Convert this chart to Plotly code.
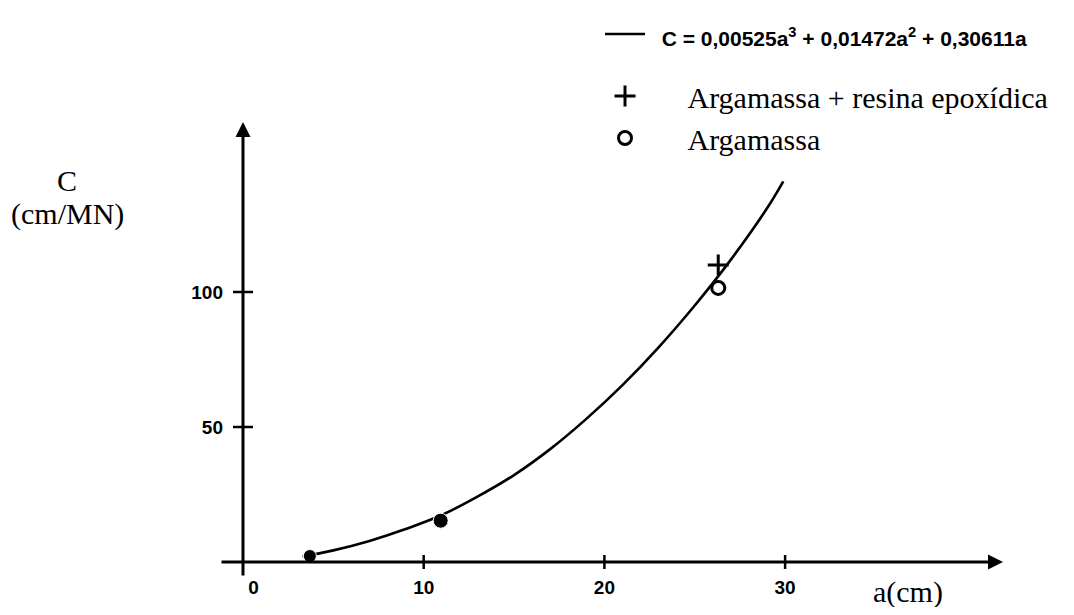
import plotly.graph_objects as go

# ---- data ----
curve_a = [3.3, 5, 7, 9, 11, 13, 15, 17, 19, 21, 23, 25, 27, 29, 29.9]
curve_c = [2.0, 4.3, 7.8, 12.2, 17.4, 24.3, 32.2, 41.8, 53.0, 65.5, 79.5, 95.0, 112.0, 131.0, 141.0]

resina_a = [26.3]
resina_c = [110.0]

arg_a = [26.3]
arg_c = [101.5]

filled_a = [3.7, 10.94]
filled_c = [2.2, 15.3]
filled_size = [13, 15]

x_ticks = [0, 10, 20, 30]
x_ticktext = ["\u00a0\u00a0\u00a0\u00a00", "10", "20", "30"]
y_ticks = [50, 100]
y_ticktext = ["50", "100"]

formula = '<b>C = 0,00525a<sup>3</sup> + 0,01472a<sup>2</sup> + 0,30611a</b>'
name_curve = '<span style="font-family:Liberation Sans;font-size:21px">\u00a0\u00a0' + formula + '</span>'
name_resina = "\u00a0\u00a0\u00a0\u00a0\u00a0Argamassa + resina epoxídica"
name_arg = "\u00a0\u00a0\u00a0\u00a0\u00a0Argamassa"

# ---- layout geometry (screen pixels; the page body has an 8 px margin) ----
OFF = 8
W, H = 1074 - 2 * OFF, 615 - 2 * OFF
L_s, R_s, T_s, B_s = 150, 1040, 8, 600     # plot area on screen
ml, mt = L_s - OFF, T_s - OFF
mr, mb = W - (R_s - OFF), H - (B_s - OFF)
pw, ph = R_s - L_s, B_s - T_s
px_per_x, px_per_y = 18.07, 2.70
x0_s, y0_s = 243, 562
xr = [(L_s - x0_s) / px_per_x, (R_s - x0_s) / px_per_x]
yr = [(y0_s - B_s) / px_per_y, (y0_s - T_s) / px_per_y]


def px(xs):
    return (xs - L_s) / pw


def py(ys):
    return (B_s - ys) / ph


fig = go.Figure()

fig.add_trace(go.Scatter(
    x=curve_a, y=curve_c, mode="lines", line=dict(color="black", width=2.6, shape="spline"),
    name=name_curve, legendgroup="g1"))
fig.add_trace(go.Scatter(
    x=resina_a, y=resina_c, mode="markers",
    marker=dict(symbol="cross-thin", size=15, opacity=1, line=dict(color="black", width=3)),
    name=name_resina, legendgroup="g2"))
fig.add_trace(go.Scatter(
    x=arg_a, y=arg_c, mode="markers",
    marker=dict(symbol="circle-open", size=13, color="black", opacity=1,
                line=dict(color="black", width=3)),
    name=name_arg, legendgroup="g2"))
fig.add_trace(go.Scatter(
    x=filled_a, y=filled_c, mode="markers",
    marker=dict(symbol="circle", size=filled_size, color="black", opacity=1),
    showlegend=False))

shapes = []
for v in x_ticks[1:]:
    shapes.append(dict(type="line", xref="x", yref="y", ysizemode="pixel", yanchor=0,
                       x0=v, x1=v, y0=-7, y1=7, line=dict(color="black", width=2.5)))
for v in y_ticks:
    shapes.append(dict(type="line", xref="x", yref="y", xsizemode="pixel", xanchor=0,
                       y0=v, y1=v, x0=-10, x1=10, line=dict(color="black", width=2.5)))

serif = dict(family="Liberation Serif", size=30, color="black")
annotations = [
    dict(x=0, y=(y0_s - 122) / px_per_y, ax=0, ay=(y0_s - 577) / px_per_y,
         xref="x", yref="y", axref="x", ayref="y",
         showarrow=True, arrowhead=2, arrowsize=1.0, arrowwidth=3, arrowcolor="black", text=""),
    dict(x=(1003 - x0_s) / px_per_x, y=0, ax=(220 - x0_s) / px_per_x, ay=0,
         xref="x", yref="y", axref="x", ayref="y",
         showarrow=True, arrowhead=2, arrowsize=1.0, arrowwidth=3, arrowcolor="black", text=""),
    dict(text="C", xref="paper", yref="paper", x=px(67), y=py(180),
         xanchor="center", yanchor="middle", showarrow=False, font=serif),
    dict(text="(cm/MN)", xref="paper", yref="paper", x=px(67), y=py(214),
         xanchor="center", yanchor="middle", showarrow=False, font=serif),
    dict(text="a(cm)", xref="paper", yref="paper", x=px(908), y=py(592),
         xanchor="center", yanchor="middle", showarrow=False, font=serif),
]

tickfont = dict(family="Liberation Sans", size=19, color="black", weight="bold")

fig.update_layout(
    width=W, height=H, autosize=False,
    margin=dict(l=ml, r=mr, t=mt, b=mb, pad=0),
    paper_bgcolor="white", plot_bgcolor="white",
    shapes=shapes, annotations=annotations,
    legend=dict(x=px(600), y=1.0, xanchor="left", yanchor="top",
                bgcolor="rgba(255,255,255,0)", tracegroupgap=20, traceorder="grouped",
                font=serif, itemwidth=40),
    xaxis=dict(range=xr, showgrid=False, zeroline=False, showline=False,
               tickvals=x_ticks, ticktext=x_ticktext, ticks="", anchor="free",
               position=py(y0_s), ticklabelstandoff=12, tickfont=tickfont),
    yaxis=dict(range=yr, showgrid=False, zeroline=False, showline=False,
               tickvals=y_ticks, ticktext=y_ticktext, ticks="", anchor="free",
               position=px(x0_s), ticklabelstandoff=20, tickfont=tickfont),
)

fig.write_html("out.html")
